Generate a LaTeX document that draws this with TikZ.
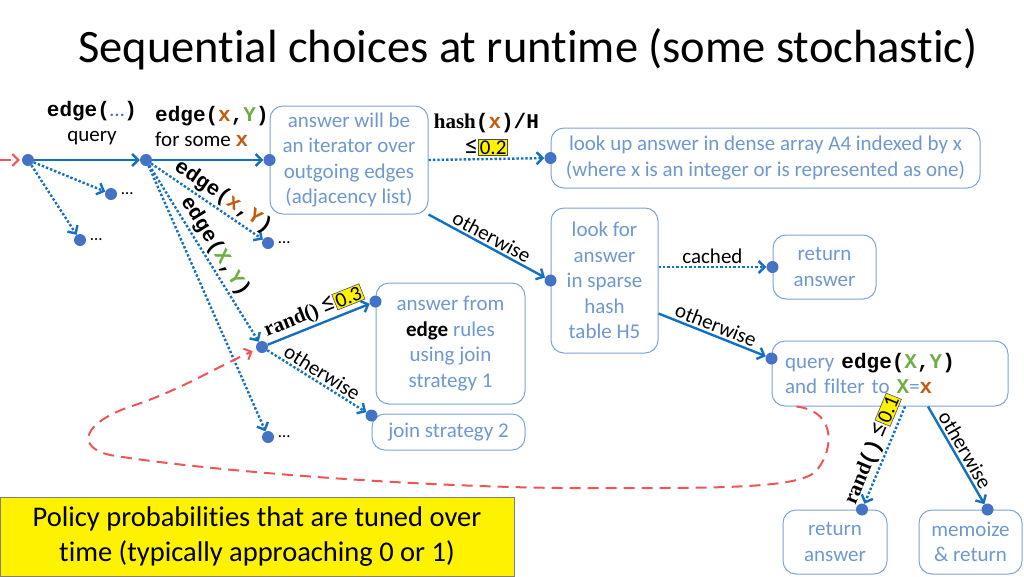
\documentclass[tikz,border=0pt]{standalone}
\usepackage{fontspec}
\setmainfont[Ligatures=NoCommon]{Carlito}
\setmonofont{Liberation Mono}
\newfontfamily\randfont{Liberation Serif}
\usetikzlibrary{arrows.meta}

\definecolor{flowblue}{RGB}{20,112,192}
\definecolor{dotblue}{RGB}{68,114,196}
\definecolor{boxline}{RGB}{125,163,214}
\definecolor{boxtext}{RGB}{110,152,207}
\definecolor{xorange}{RGB}{197,90,17}
\definecolor{ygreen}{RGB}{112,173,71}
\definecolor{policyred}{RGB}{240,85,85}

\newcommand\kw[1]{{\ttfamily\bfseries #1}}
\newcommand\varx{{\ttfamily\bfseries\color{xorange}x}}
\newcommand\varX{{\ttfamily\bfseries\color{ygreen}X}}
\newcommand\varY{{\ttfamily\bfseries\color{ygreen}Y}}
\newcommand\fn[1]{{\randfont\bfseries #1}}
\newcommand\leqmark{{\fontsize{27}{27}\selectfont ≤}}
\newcommand\prob[1]{{\setlength{\fboxsep}{1pt}\setlength{\fboxrule}{0.6pt}\fcolorbox{black!70}{yellow}{#1}}}

\tikzset{
  dot/.style={circle,fill=dotblue,inner sep=0pt,minimum size=12pt},
  box/.style={draw=boxline,line width=1pt,rounded corners=13pt,text=boxtext,align=center,inner sep=0pt,font=\fontsize{21}{25.5}\selectfont},
  flow/.style={draw=flowblue,line width=2.4pt,-{Straight Barb[length=6pt,width=12pt]}},
  maybe/.style={flow,dash pattern=on 2.4pt off 2pt},
  policy/.style={draw=policyred,line width=2pt,dash pattern=on 11pt off 7pt,-{Straight Barb[length=6pt,width=12pt]}},
  lbl/.style={font=\fontsize{21}{25}\selectfont,text=black,inner sep=2pt},
  more/.style={anchor=west,xshift=4pt,font=\fontsize{17}{18}\selectfont,inner sep=0pt}
}

\begin{document}
\begin{tikzpicture}[x=1pt,y=-1pt]
\fill[white] (0,0) rectangle (1024,576);
\useasboundingbox (0,0) rectangle (1024,576);

\node[anchor=base west,font=\fontsize{46.5}{50}\selectfont,inner sep=0pt] (title) at (78,62) {Sequential choices at runtime (some stochastic)};

\node[lbl,align=center] (qlbl) at (92,123) {\kw{edge(}{\color{dotblue}…}\kw{)}\\query};
\node[lbl,anchor=west,align=left] (forsome) at (153,126) {\kw{edge(}\varx\kw{,}\varY\kw{)}\\for some \varx};

\node[box,minimum width=158pt,minimum height=108pt] (iter) at (349,160) {answer will be\\an iterator over\\outgoing edges\\(adjacency list)};
\node[box,minimum width=429pt,minimum height=60pt] (dense) at (765.5,158) {look up answer in dense array A4 indexed by x\\(where x is an integer or is represented as one)};
\node[box,minimum width=107pt,minimum height=145pt] (sparse) at (604.5,280.5) {look for\\answer\\in sparse\\hash\\table H5};
\node[box,minimum width=103pt,minimum height=64pt] (ret1) at (824.5,267) {return\\answer};
\node[box,align=left,text width=210pt,inner xsep=13pt,minimum height=65pt] (qry) at (890,373.5) {query {\color{black}\kw{edge(}}\varX{\color{black}\kw{,}}\varY{\color{black}\kw{)}}\\and filter to \varX=\varx};
\node[box,minimum width=104pt,minimum height=64pt] (ret2) at (835,542) {return\\answer};
\node[box,minimum width=103pt,minimum height=64pt] (memo) at (970.5,542) {memoize\\\& return};
\node[box,minimum width=149pt,minimum height=121pt] (rules) at (450.5,343.5) {answer from\\{\color{black}\textbf{edge}} rules\\using join\\strategy 1};
\node[box,minimum width=153pt,minimum height=36pt] (join2) at (448.5,432) {join strategy 2};

\node[draw=black!50,fill=yellow,minimum width=514pt,minimum height=79pt,align=center,inner sep=0pt,font=\fontsize{28.5}{35}\selectfont] (note) at (257,536.5) {Policy probabilities that are tuned over\\time (typically approaching 0 or 1)};

\node[dot] (d0) at (28,160) {};
\node[dot] (d1) at (146,160) {};
\node[dot] (d2) at (iter.west) {};
\node[dot] (e1) at (111,194) {};
\node[dot] (e2) at (80,240) {};
\node[dot] (e3) at (268,243) {};
\node[dot] (rnd) at (262,347) {};
\node[dot] (e4) at (268,437) {};
\node[dot] (ddense) at (dense.west) {};
\node[dot] (dsparse) at (sparse.west) {};
\node[dot] (dret1) at (ret1.west) {};
\node[dot] (dqry) at ([yshift=15pt]qry.west) {};
\node[dot] (dret2) at ([xshift=27pt]ret2.north) {};
\node[dot] (dmemo) at ([xshift=17pt]memo.north) {};
\node[dot] (drules) at ([yshift=42pt]rules.west) {};
\node[dot] (djoin) at ([yshift=-2pt]join2.north west) {};

\node[more] (m1) at (e1.east) {…};
\node[more] (m2) at (e2.east) {…};
\node[more] (m3) at (e3.east) {…};
\node[more] (m4) at (e4.east) {…};

\coordinate (entry) at (0,160);
\draw[policy,shorten >=2pt] (entry) -- (d0);
\draw[flow] (d0) -- (d1);
\draw[flow] (d1) -- (d2);
\draw[maybe] (d0) -- (e1);
\draw[maybe] (d0) -- (e2);
\draw[maybe] (d1) -- node[lbl,sloped,above,pos=0.58] (lxy) {\kw{edge(}\varx\kw{,}{\ttfamily\bfseries\color{xorange}Y}\kw{)}} (e3);
\draw[maybe] (d1) -- node[lbl,sloped,above,pos=0.5] (lXY) {\kw{edge(}\varX\kw{,}\varY\kw{)}} (rnd);
\draw[maybe] (d1) -- (e4);
\draw[maybe] (iter.east) -- node[lbl,above,align=center,font=\fontsize{21}{26}\selectfont] (lhash) {\fn{hash}\kw{(}\varx\kw{)/H}\\\leqmark\prob{0.2}} (ddense);
\draw[flow] (iter.south east) -- node[lbl,sloped,above] (lo1) {otherwise} (dsparse);
\draw[maybe] (sparse.east |- dret1) -- node[lbl,above] (lcached) {cached} (dret1);
\draw[flow] ([yshift=-33pt]sparse.east) -- node[lbl,sloped,above] (lo2) {otherwise} (dqry);
\draw[maybe] ([xshift=15pt]qry.south) -- node[lbl,sloped,above] (lr1) {\fn{rand}\kw{()} \leqmark\prob{0.1}} (dret2);
\draw[flow] ([xshift=38pt]qry.south) -- node[lbl,sloped,above] (lo3) {otherwise} (dmemo);
\draw[flow] (rnd) -- node[lbl,sloped,above] (lr3) {\fn{rand()} \leqmark\prob{0.3}} (drules);
\draw[maybe] (rnd) -- node[lbl,sloped,above] (lo4) {otherwise} (djoin);
\draw[policy,shorten >=4pt] ([xshift=25pt]qry.south west) .. controls (840,412) and (832,455) .. (815,472) .. controls (795,490) and (700,488) .. (560,488) .. controls (400,486) and (200,470) .. (110,455) .. controls (75,447) and (82,422) .. (135,405) .. controls (180,390) and (215,368) .. (rnd);
\end{tikzpicture}
\end{document}
